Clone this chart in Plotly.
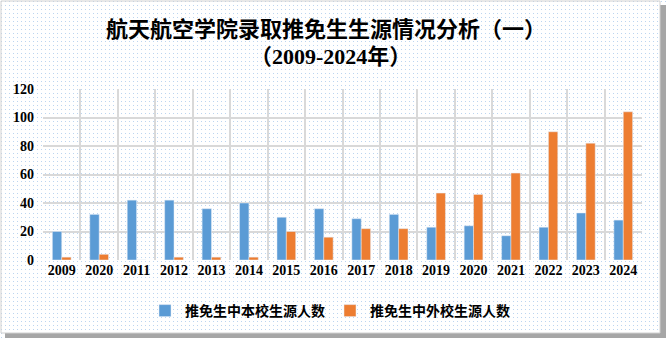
import base64
import plotly.graph_objects as go

years = ["2009", "2020", "2011", "2012", "2013", "2014", "2015", "2016",
         "2017", "2018", "2019", "2020", "2021", "2022", "2023", "2024"]
own_school = [20, 32, 42, 42, 36, 40, 30, 36, 29, 32, 23, 24, 17, 23, 33, 28]
other_school = [2, 4, 0, 2, 2, 2, 20, 16, 22, 22, 47, 46, 61, 90, 82, 104]
series_names = ["推免生中本校生源人数", "推免生中外校生源人数"]
title_lines = ["航天航空学院录取推免生生源情况分析（一）", "（2009-2024年）"]
y_ticks = [0, 20, 40, 60, 80, 100, 120]

pos = list(range(len(years)))

svg = ('<svg xmlns="http://www.w3.org/2000/svg" width="668" height="344">'
       '<defs><pattern id="p" width="4" height="4" patternUnits="userSpaceOnUse">'
       '<rect x="1" y="1" width="1" height="1" fill="#bcd5f0"/></pattern></defs>'
       '<rect width="668" height="344" fill="#ffffff"/>'
       '<rect width="668" height="344" fill="url(#p)"/></svg>')
bg_uri = "data:image/svg+xml;base64," + base64.b64encode(svg.encode()).decode()

L, R, T, B = 43, 642, 89, 260
PW, PH = R - L, B - T


def px_x(v):
    return (v - L) / PW


def px_y(v):
    return (B - v) / PH


fig = go.Figure()
fig.add_trace(go.Bar(x=pos, y=own_school, name=series_names[0], marker_color="#5B9BD5"))
fig.add_trace(go.Bar(x=pos, y=other_school, name=series_names[1], marker_color="#ED7D31"))

W, H = 668, 344
fig.update_layout(
    width=W, height=H,
    margin=dict(l=L, r=W - R, t=T, b=H - B),
    paper_bgcolor="rgba(0,0,0,0)",
    plot_bgcolor="rgba(0,0,0,0)",
    barmode="group", bargap=0.5, bargroupgap=0,
    xaxis=dict(range=[-0.5, len(years) - 0.5], tickmode="array", tickvals=pos, ticktext=years,
               showgrid=False, zeroline=False, showline=False, ticks="",
               tickfont=dict(family="Liberation Serif", size=14, color="#000000", weight="bold"),
               minor=dict(tickmode="array", tickvals=[p + 0.5 for p in pos], showgrid=True,
                          gridcolor="#d9d9d9", gridwidth=1.5)),
    yaxis=dict(range=[0, 120], tickmode="array", tickvals=y_ticks, showgrid=True,
               gridcolor="#d9d9d9", gridwidth=1.5, zeroline=False, showline=False,
               ticks="", ticklabelstandoff=8,
               tickfont=dict(family="Liberation Serif", size=14, color="#000000", weight="bold")),
    legend=dict(orientation="h", x=px_x(330), xanchor="center", y=px_y(295), yanchor="top",
                font=dict(family="Noto Sans CJK SC", size=14, color="#000000", weight="bold"),
                itemwidth=30, bgcolor="rgba(0,0,0,0)"),
    images=[dict(source=bg_uri, xref="paper", yref="paper", x=px_x(0), y=px_y(0),
                 sizex=W / PW, sizey=H / PH, xanchor="left", yanchor="top",
                 sizing="stretch", layer="below")],
    annotations=[
        dict(text="<b>" + title_lines[0] + "</b>", xref="paper", yref="paper",
             x=px_x(326), y=px_y(27), xanchor="center", yanchor="middle", showarrow=False,
             font=dict(family="Noto Sans CJK SC", size=22, color="#000000")),
        dict(text="<b>" + title_lines[1] + "</b>", xref="paper", yref="paper",
             x=px_x(330), y=px_y(56), xanchor="center", yanchor="middle", showarrow=False,
             font=dict(family="Liberation Serif, Noto Sans CJK SC", size=22, color="#000000")),
    ],
)

fig.add_shape(type="rect", xref="paper", yref="paper", x0=px_x(660), x1=px_x(666),
              y0=px_y(338), y1=px_y(5), fillcolor="#a6a6a6", line_width=0, layer="above")
fig.add_shape(type="rect", xref="paper", yref="paper", x0=px_x(5), x1=px_x(666),
              y0=px_y(338), y1=px_y(333), fillcolor="#a6a6a6", line_width=0, layer="above")
fig.add_shape(type="rect", xref="paper", yref="paper", x0=px_x(1), x1=px_x(660),
              y0=px_y(333), y1=px_y(1), line=dict(color="#d0d0d0", width=1), layer="above")
fig.add_shape(type="rect", xref="paper", yref="paper", x0=px_x(666), x1=px_x(670),
              y0=px_y(346), y1=px_y(-2), fillcolor="#ffffff", line_width=0, layer="above")
fig.add_shape(type="rect", xref="paper", yref="paper", x0=px_x(-2), x1=px_x(670),
              y0=px_y(346), y1=px_y(338), fillcolor="#ffffff", line_width=0, layer="above")

fig.write_html("out.html")
